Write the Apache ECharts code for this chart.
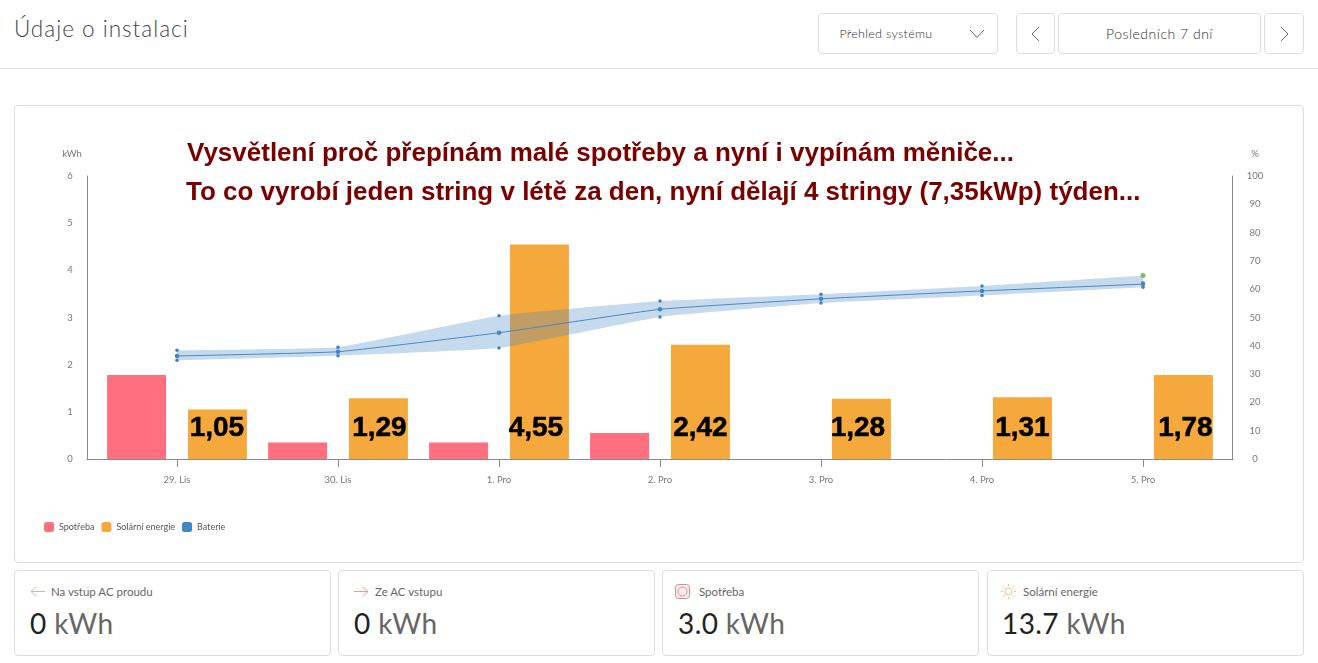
<!DOCTYPE html>
<html lang="cs"><head><meta charset="utf-8"><title>Údaje o instalaci</title>
<script src="https://cdn.jsdelivr.net/npm/echarts@6/dist/echarts.min.js"></script>
<style>
html,body{margin:0;padding:0;background:#fff;width:1318px;height:663px;overflow:hidden;font-family:Lato,"Noto Sans",sans-serif;color:#444}
.a{position:absolute;box-sizing:border-box}
.box{border:1px solid #dedede;border-radius:4px;background:#fff}
.btn{display:flex;align-items:center;justify-content:center;font-size:14px;color:#2e2e2e;letter-spacing:.5px}
.lab{font-size:11.5px;color:#666;white-space:nowrap}
.val{font-size:28px;color:#666;white-space:nowrap;letter-spacing:.4px}
.val b{font-weight:400;color:#222}
svg{position:absolute;overflow:visible}
#chart{position:absolute;left:0;top:0;width:1318px;height:663px}
</style></head><body>
<div class="a" style="left:14px;top:15px;font-size:22.5px;color:#444;letter-spacing:1px;font-weight:300">Údaje o instalaci</div>
<div class="a" style="left:0;top:68px;width:1318px;height:1px;background:#e0e0e0"></div>
<div class="a box btn" style="left:818px;top:13px;width:180px;height:41px;font-size:12.5px;letter-spacing:.3px;padding-right:44px;font-weight:300">Přehled systému
 <svg style="left:150px;top:15px" width="16" height="10"><path d="M1 1L8 8.5L15 1" fill="none" stroke="#666"/></svg></div>
<div class="a box" style="left:1016px;top:13px;width:39px;height:41px"><svg style="left:14px;top:12px" width="10" height="16"><path d="M8 1L1 8L8 15" fill="none" stroke="#666"/></svg></div>
<div class="a box btn" style="left:1058px;top:13px;width:203px;height:41px;font-weight:300">Posledních 7 dní</div>
<div class="a box" style="left:1264px;top:13px;width:40px;height:41px"><svg style="left:15px;top:12px" width="10" height="16"><path d="M1 1L8 8L1 15" fill="none" stroke="#666"/></svg></div>
<div class="a box" style="left:14px;top:105px;width:1290px;height:458px"></div>

<div class="a box" style="left:14px;top:570px;width:317px;height:86px"></div>
<div class="a box" style="left:338px;top:570px;width:317px;height:86px"></div>
<div class="a box" style="left:662px;top:570px;width:317px;height:86px"></div>
<div class="a box" style="left:987px;top:570px;width:317px;height:86px"></div>
<svg style="left:30px;top:586px" width="15" height="11"><path d="M15 5.5H1M6 1L1 5.5L6 10" fill="none" stroke="#b5c4a8"/></svg>
<svg style="left:354px;top:586px" width="15" height="11"><path d="M0 5.5H14M9 1L14 5.5L9 10" fill="none" stroke="#e0a096"/></svg>
<svg style="left:675px;top:584px" width="15" height="15"><rect x=".5" y=".5" width="14" height="14" rx="3" fill="#fbeeee" stroke="#d98a8a"/><circle cx="7.5" cy="7.5" r="4.5" fill="none" stroke="#d98a8a"/></svg>
<svg style="left:1001px;top:584px" width="15" height="15"><circle cx="7.5" cy="7.5" r="3.5" fill="none" stroke="#e3c38a"/><path d="M7.5 0V2M7.5 13V15M0 7.5H2M13 7.5H15M2.2 2.2L3.6 3.6M11.4 11.4L12.8 12.8M2.2 12.8L3.6 11.4M11.4 3.6L12.8 2.2" stroke="#e3c38a"/></svg>
<div class="a lab" style="left:51px;top:585px">Na vstup AC proudu</div>
<div class="a lab" style="left:375px;top:585px">Ze AC vstupu</div>
<div class="a lab" style="left:699px;top:585px">Spotřeba</div>
<div class="a lab" style="left:1023px;top:585px">Solární energie</div>
<div class="a val" style="left:30px;top:606px"><b>0</b> kWh</div>
<div class="a val" style="left:354px;top:606px"><b>0</b> kWh</div>
<div class="a val" style="left:678px;top:606px"><b>3.0</b> kWh</div>
<div class="a val" style="left:1002px;top:606px"><b>13.7</b> kWh</div>
<div id="chart"></div>
<script>
const categories = ['29. Lis','30. Lis','1. Pro','2. Pro','3. Pro','4. Pro','5. Pro'];
const consumption = [1.78,0.35,0.35,0.55,0,0,0];
const solar = [1.05,1.29,4.55,2.42,1.28,1.31,1.78];
const batteryMean = [36.4,37.9,44.6,52.9,56.6,59.4,61.8];
const batteryMin = [34.9,36.5,39.2,50.2,55.1,57.8,60.7];
const batteryMax = [38.4,39.5,50.6,55.8,58.2,61.1,64.8];
const batteryExtra = [[6,62.3]];
const leftTicks = {min:0,max:6,interval:1};
const rightTicks = {min:0,max:100,interval:10};
const note1 = 'Vysvětlení proč přepínám malé spotřeby a nyní i vypínám měniče...';
const note2 = 'To co vyrobí jeden string v létě za den, nyní dělají 4 stringy (7,35kWp) týden...';

// layout only: small sideways nudges of the typed-on bar captions
const captionNudge = [-0.5,1,-3.5,0,-3.5,0,2];

const AX='#8a8a8a', TXT='#777', DOT='#4a7fb5';
const bandDiff = batteryMax.map((v,i)=>+(v-batteryMin[i]).toFixed(1));
const chart = echarts.init(document.getElementById('chart'),null,{renderer:'canvas'});
chart.setOption({
  animation:false,
  textStyle:{fontFamily:'Lato, "Noto Sans", sans-serif'},
  grid:[{left:96.5,width:1127,top:176,height:283},{left:87,width:1146,top:176,height:283}],
  legend:{left:39,top:517,itemWidth:10,itemHeight:10,itemGap:7,icon:'roundRect',
    data:['Spotřeba','Solární energie','Baterie'],
    textStyle:{fontSize:9,color:'#555'}},
  xAxis:[
    {type:'category',gridIndex:0,data:categories,axisLine:{show:false},
     axisTick:{show:true,alignWithLabel:true,length:8,lineStyle:{color:AX}},
     axisLabel:{fontSize:9.5,color:TXT,margin:16}},
    {type:'value',gridIndex:1,min:0,max:1,axisLine:{show:true,onZero:false,lineStyle:{color:AX}},
     axisTick:{show:false},axisLabel:{show:false},splitLine:{show:false}}
  ],
  yAxis:[
    {type:'value',gridIndex:0,...leftTicks,offset:9.5,name:'kWh',nameGap:17,
     nameTextStyle:{fontSize:9.5,color:TXT,padding:[0,30,0,0]},
     axisLine:{show:true,lineStyle:{color:AX}},axisTick:{show:false},splitLine:{show:false},
     axisLabel:{fontSize:9.5,color:TXT,margin:17,align:'center'}},
    {type:'value',gridIndex:0,position:'right',...rightTicks,offset:8.5,name:'%',nameGap:17,
     nameTextStyle:{fontSize:9.5,color:TXT,padding:[0,0,0,46]},
     axisLine:{show:true,lineStyle:{color:AX}},axisTick:{show:false},splitLine:{show:false},
     axisLabel:{fontSize:9.5,color:TXT,margin:23,align:'center'}},
    {type:'value',gridIndex:1,min:0,max:1,show:false}
  ],
  graphic:[
    {type:'text',left:187,top:141,z:50,style:{text:note1,font:'bold 26px "Liberation Sans", Arial, sans-serif',fill:'#7a0000'}},
    {type:'text',left:186,top:180,z:50,style:{text:note2,font:'bold 26px "Liberation Sans", Arial, sans-serif',fill:'#7a0000'}}
  ],
  series:[
    {name:'Spotřeba',type:'bar',xAxisIndex:0,yAxisIndex:0,data:consumption,barWidth:59,barGap:'37%',
     itemStyle:{color:'#ff6f80'}},
    {name:'Solární energie',type:'bar',xAxisIndex:0,yAxisIndex:0,barWidth:59,
     data:solar.map((v,i)=>({value:v,label:{offset:[captionNudge[i],0]}})),
     itemStyle:{color:'#f5a83c'},z:2,
     label:{show:true,position:'insideBottom',distance:17,color:'#000',
       fontFamily:'"Liberation Sans", Arial, sans-serif',fontWeight:'bold',fontSize:28,
       textBorderColor:'#000',textBorderWidth:0.5,
       formatter:p=>p.value.toFixed(2).replace('.',',')}},
    {name:'bandBase',type:'line',xAxisIndex:0,yAxisIndex:1,stack:'band',data:batteryMin,smooth:0.1,
     lineStyle:{width:0},symbol:'circle',symbolSize:3.5,itemStyle:{color:DOT},z:3},
    {name:'bandTop',type:'line',xAxisIndex:0,yAxisIndex:1,stack:'band',data:bandDiff.map((v,i)=>i===6?{value:v,itemStyle:{color:'#7fb86a'},symbolSize:5}:v),smooth:0.1,
     lineStyle:{width:0},areaStyle:{color:'rgba(66,133,200,0.3)',opacity:1},symbol:'circle',symbolSize:3.5,itemStyle:{color:DOT},z:3},
    {name:'Baterie',type:'line',xAxisIndex:0,yAxisIndex:1,data:batteryMean,smooth:0.1,
     lineStyle:{width:1,color:'#4a86c0'},symbol:'circle',symbolSize:4.5,itemStyle:{color:'#3f88c5'},z:4},
    {name:'bandExtra',type:'scatter',xAxisIndex:0,yAxisIndex:1,data:batteryExtra,symbolSize:3.5,itemStyle:{color:DOT},z:4}
  ]
});
</script></body></html>
